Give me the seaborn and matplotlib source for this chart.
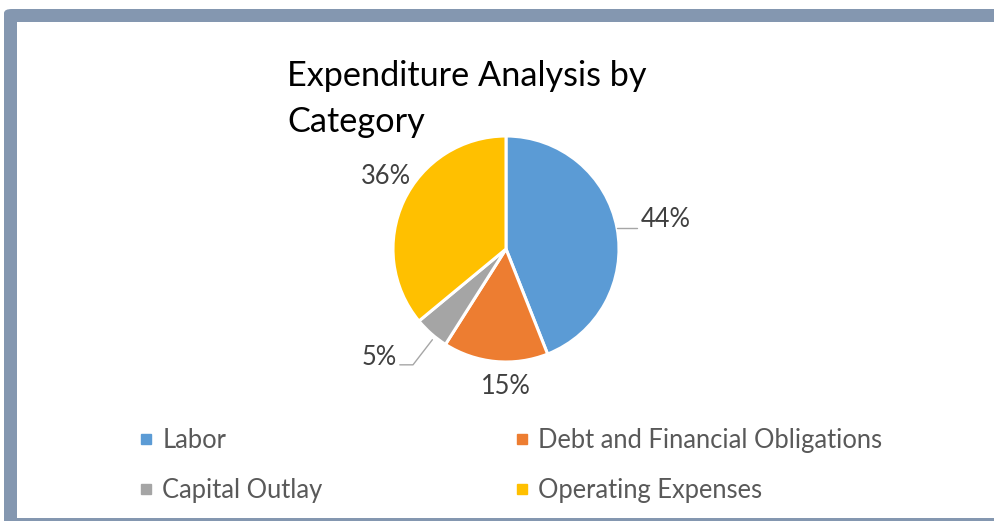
import matplotlib
matplotlib.use("Agg")
import matplotlib.pyplot as plt
from matplotlib.patches import FancyBboxPatch, Rectangle
from matplotlib.lines import Line2D
import seaborn as sns
import numpy as np

# ---- data ----
categories = ["Labor", "Debt and Financial Obligations", "Capital Outlay", "Operating Expenses"]
values = [44, 15, 5, 36]
colors = ["#5B9BD5", "#ED7D31", "#A5A5A5", "#FFC000"]
title = "Expenditure Analysis by\nCategory"

sns.set_theme(style="white")
plt.rcParams["font.family"] = ["Lato", "DejaVu Sans"]

W, H = 994, 521
fig = plt.figure(figsize=(W / 100, H / 100), dpi=100)
fig.patch.set_facecolor("white")

def fx(px):
    return px / W

def fy(py):  # py measured from top
    return (H - py) / H

# frame
frame_col = "#8497B0"
fig.patches.append(FancyBboxPatch((fx(4), fy(540)), fx(1100), fy(9) - fy(540),
                                  boxstyle="round,pad=0,rounding_size=0.008",
                                  transform=fig.transFigure, facecolor=frame_col,
                                  edgecolor="none", zorder=-2))
fig.patches.append(Rectangle((fx(17), fy(518)), fx(1100), fy(22) - fy(518),
                             transform=fig.transFigure, facecolor="white",
                             edgecolor="none", zorder=-1))

# pie axes: centre (506, 249), radius 113 px
cx, cy, r = 506, 249, 113
ax = fig.add_axes([fx(cx - r), fy(cy + r), fx(2 * r), fy(cy - r) - fy(cy + r)])
ax.set_zorder(3)
ax.patch.set_visible(False)
wedges, _ = ax.pie(values, colors=colors, startangle=90, counterclock=False, radius=1,
                   wedgeprops=dict(edgecolor="white", linewidth=2.2))
ax.set_xlim(-1, 1)
ax.set_ylim(-1, 1)
ax.set_aspect("equal")
ax.axis("off")

lab_col = "#404040"
line_col = "#A6A6A6"
fs_lab = 18.4
total = sum(values)
pct = [f"{round(v / total * 100)}%" for v in values]

def mid_pt(w):
    a = np.deg2rad((w.theta1 + w.theta2) / 2)
    return np.cos(a), np.sin(a)

# Labor label with horizontal leader
mx, my = mid_pt(wedges[0])
ax.plot([mx, 1.16], [my, my], color=line_col, lw=1, clip_on=False)
ax.text(1.19, my + 0.01, pct[0], ha="left", va="baseline", fontsize=fs_lab, color=lab_col)

# Debt label
ax.text(0.0, -1.22, pct[1], ha="center", va="center", fontsize=fs_lab, color=lab_col)

# Capital outlay label with bent leader
mx, my = mid_pt(wedges[2])
ax.plot([mx * 0.985, -0.823, -0.94], [my * 1.07, -1.025, -1.025], color=line_col, lw=1,
        clip_on=False)
ax.text(-0.965, -1.025, pct[2], ha="right", va="baseline", fontsize=fs_lab, color=lab_col)

# Operating label
ax.text(-1.062, 0.646, pct[3], ha="center", va="center", fontsize=fs_lab, color=lab_col)

# title
fig.text(fx(287), fy(60), title, ha="left", va="top", fontsize=24.7, color="black",
         linespacing=1.55)

# legend in two columns
def handle(c):
    return Line2D([], [], marker="s", linestyle="none", markersize=7.5,
                  markerfacecolor=c, markeredgecolor=c)

leg_kw = dict(frameon=False, fontsize=fs_lab, labelcolor="#595959", handlelength=0.5,
              handletextpad=0.38, labelspacing=0.95, borderpad=0, borderaxespad=0,
              loc="center left")
leg1 = fig.legend([handle(colors[0]), handle(colors[2])], [categories[0], categories[2]],
                  bbox_to_anchor=(fx(140), fy(465.5)), **leg_kw)
leg2 = fig.legend([handle(colors[1]), handle(colors[3])], [categories[1], categories[3]],
                  bbox_to_anchor=(fx(516), fy(465.5)), **leg_kw)

fig.savefig("out.png", dpi=100, facecolor="white")
